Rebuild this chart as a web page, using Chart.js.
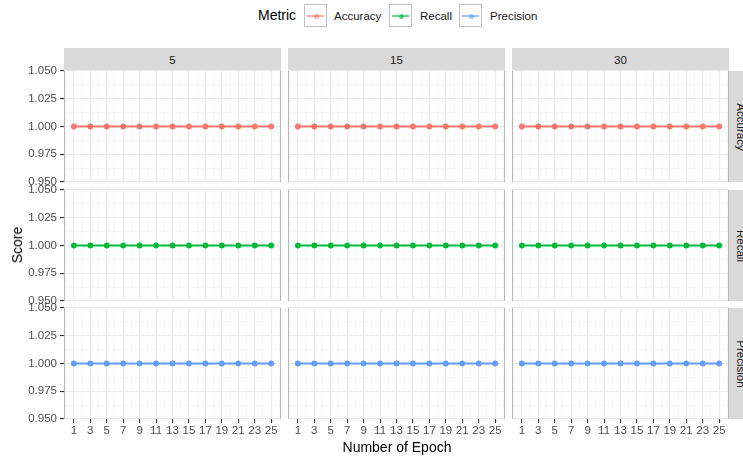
<!DOCTYPE html>
<html>
<head>
<meta charset="utf-8">
<script src="https://cdn.jsdelivr.net/npm/chart.js@4.4.1/dist/chart.umd.min.js"></script>
<style>
  html, body { margin: 0; padding: 0; background: #ffffff; }
  body {
    width: 743px; height: 457px; position: relative; overflow: hidden;
    font-family: "Liberation Sans", Arial, Helvetica, sans-serif;
  }
  .abs { position: absolute; }
  canvas { position: absolute; }
  .strip { position: absolute; background: #d9d9d9; color: #1a1a1a; font-size: 11.5px; overflow: hidden; }
  .strip span { position: absolute; left: 50%; top: 50%; white-space: nowrap; line-height: 14px; }
  .strip.top span { transform: translate(-50%, -50%); }
  .strip.side span { transform: translate(-50%, -50%) rotate(90deg); }
  .key { position: absolute; width: 23px; height: 23px; box-sizing: border-box; border: 1px solid #c2c2c2; background: #fff; }
  .key .ln { position: absolute; left: 2px; right: 2px; top: 10px; height: 1.7px; opacity: 0.6; }
  .key .pt { position: absolute; left: 8.5px; top: 8.5px; width: 5.5px; height: 5.5px; border-radius: 50%; opacity: 0.6; }
  .lbl { position: absolute; font-size: 11.5px; color: #1a1a1a; line-height: 14px; white-space: nowrap; }
  .title { position: absolute; font-size: 14px; color: #000; line-height: 16px; white-space: nowrap; }
</style>
</head>
<body>
<script>
// ---- data -------------------------------------------------------------
const epochs = [1, 3, 5, 7, 9, 11, 13, 15, 17, 19, 21, 23, 25];
const windows = ['5', '15', '30'];
const metrics = ['Accuracy', 'Recall', 'Precision'];

const accuracyW5  = [1.000, 1.000, 1.000, 1.000, 1.000, 1.000, 1.000, 1.000, 1.000, 1.000, 1.000, 1.000, 1.000];
const accuracyW15 = [1.000, 1.000, 1.000, 1.000, 1.000, 1.000, 1.000, 1.000, 1.000, 1.000, 1.000, 1.000, 1.000];
const accuracyW30 = [1.000, 1.000, 1.000, 1.000, 1.000, 1.000, 1.000, 1.000, 1.000, 1.000, 1.000, 1.000, 1.000];
const recallW5    = [1.000, 1.000, 1.000, 1.000, 1.000, 1.000, 1.000, 1.000, 1.000, 1.000, 1.000, 1.000, 1.000];
const recallW15   = [1.000, 1.000, 1.000, 1.000, 1.000, 1.000, 1.000, 1.000, 1.000, 1.000, 1.000, 1.000, 1.000];
const recallW30   = [1.000, 1.000, 1.000, 1.000, 1.000, 1.000, 1.000, 1.000, 1.000, 1.000, 1.000, 1.000, 1.000];
const precisionW5  = [1.000, 1.000, 1.000, 1.000, 1.000, 1.000, 1.000, 1.000, 1.000, 1.000, 1.000, 1.000, 1.000];
const precisionW15 = [1.000, 1.000, 1.000, 1.000, 1.000, 1.000, 1.000, 1.000, 1.000, 1.000, 1.000, 1.000, 1.000];
const precisionW30 = [1.000, 1.000, 1.000, 1.000, 1.000, 1.000, 1.000, 1.000, 1.000, 1.000, 1.000, 1.000, 1.000];

const xBreaks = [1, 3, 5, 7, 9, 11, 13, 15, 17, 19, 21, 23, 25];
const yBreaks = [0.950, 0.975, 1.000, 1.025, 1.050];

// ---- lookup tables built from the arrays above -------------------------
const scores = {
  Accuracy:  { '5': accuracyW5,  '15': accuracyW15,  '30': accuracyW30 },
  Recall:    { '5': recallW5,    '15': recallW15,    '30': recallW30 },
  Precision: { '5': precisionW5, '15': precisionW15, '30': precisionW30 }
};
const metricColors = { Accuracy: '#F8766D', Recall: '#00BA38', Precision: '#619CFF' };

const xLimits = [-0.2, 26.2];
const yLimits = [0.95, 1.05];

// minor breaks halfway between major ones (also just outside the ends when in range)
function minorBreaks(br, lo, hi) {
  const out = [];
  const step = br[1] - br[0];
  const first = br[0] - step / 2;
  if (first >= lo - 1e-9) out.push(first);
  for (let i = 0; i < br.length - 1; i++) out.push((br[i] + br[i + 1]) / 2);
  const last = br[br.length - 1] + step / 2;
  if (last <= hi + 1e-9) out.push(last);
  return out;
}
const isMajor = (v, br) => br.some(b => Math.abs(b - v) < 1e-9);

// ---- layout ------------------------------------------------------------
const FONT = '"Liberation Sans", Arial, Helvetica, sans-serif';
const colL = [64, 288, 512];
const PW = 217;
const rowT = [71, 190, 308];
const PH = 111;
const PAD = 10;
const X_AXIS_H = 24;

Chart.defaults.font.family = FONT;
Chart.defaults.font.size = 11.5;

const panelBorder = {
  id: 'panelBorder',
  beforeDatasetsDraw(chart) {
    const { ctx, chartArea: a } = chart;
    ctx.save();
    ctx.strokeStyle = '#b8b8b8';
    ctx.lineWidth = 1;
    ctx.beginPath();
    ctx.moveTo(a.left + 0.5, a.top); ctx.lineTo(a.left + 0.5, a.bottom);
    ctx.moveTo(a.right - 0.5, a.top); ctx.lineTo(a.right - 0.5, a.bottom);
    ctx.stroke();
    ctx.restore();
  }
};

function gridColor(br) {
  return ctx => (ctx.tick && isMajor(ctx.tick.value, br)) ? '#ebebeb' : '#f1f1f1';
}
function gridWidth(br) {
  return ctx => (ctx.tick && isMajor(ctx.tick.value, br)) ? 1.1 : 0.6;
}
function tickColor(br) {
  return ctx => (ctx.tick && isMajor(ctx.tick.value, br)) ? '#333333' : 'rgba(0,0,0,0)';
}

function makePanel(r, c) {
  const metric = metrics[r];
  const win = windows[c];
  const values = scores[metric][win];
  const color = metricColors[metric];

  const showY = c === 0;
  const showX = r === metrics.length - 1;

  const left = showY ? 0 : colL[c] - PAD;
  const padL = showY ? 0 : PAD;
  const yAxisW = showY ? colL[0] : 0;
  const width = colL[c] + PW + PAD - left;
  const top = rowT[r] - PAD;
  const xAxisH = showX ? X_AXIS_H : 0;
  const height = PAD + PH + xAxisH + PAD;

  const cv = document.createElement('canvas');
  cv.width = width; cv.height = height;
  cv.style.left = left + 'px'; cv.style.top = top + 'px';
  cv.style.width = width + 'px'; cv.style.height = height + 'px';
  document.body.appendChild(cv);

  const xAll = xBreaks.concat(minorBreaks(xBreaks, xLimits[0], xLimits[1])).sort((a, b) => a - b);
  const yAll = yBreaks.concat(minorBreaks(yBreaks, yLimits[0], yLimits[1])).sort((a, b) => a - b);

  new Chart(cv, {
    type: 'line',
    data: {
      datasets: [{
        label: metric,
        data: epochs.map((e, i) => ({ x: e, y: values[i] })),
        borderColor: color,
        backgroundColor: color,
        borderWidth: 1.8,
        pointRadius: 2.9,
        pointBorderWidth: 0,
        pointBackgroundColor: color,
        tension: 0,
        fill: false
      }]
    },
    options: {
      responsive: false,
      animation: false,
      events: [],
      devicePixelRatio: 1,
      layout: { padding: { left: padL, right: PAD, top: PAD, bottom: PAD } },
      plugins: { legend: { display: false }, tooltip: { enabled: false } },
      scales: {
        x: {
          type: 'linear',
          min: xLimits[0], max: xLimits[1],
          afterBuildTicks: s => { s.ticks = xAll.map(v => ({ value: v })); },
          afterFit: s => { s.height = xAxisH; },
          border: { display: false },
          grid: {
            color: gridColor(xBreaks), lineWidth: gridWidth(xBreaks),
            drawTicks: showX, tickLength: 4, tickColor: tickColor(xBreaks), tickWidth: 1.1
          },
          ticks: {
            display: showX, autoSkip: false, maxRotation: 0, minRotation: 0,
            padding: 1, color: '#4d4d4d', font: { size: 11.5 },
            callback: v => isMajor(v, xBreaks) ? String(Math.round(v)) : ''
          }
        },
        y: {
          type: 'linear',
          min: yLimits[0], max: yLimits[1],
          afterBuildTicks: s => { s.ticks = yAll.map(v => ({ value: v })); },
          afterFit: s => { s.width = yAxisW; },
          border: { display: false },
          grid: {
            color: gridColor(yBreaks), lineWidth: gridWidth(yBreaks),
            drawTicks: showY, tickLength: 4, tickColor: tickColor(yBreaks), tickWidth: 1.1
          },
          ticks: {
            display: showY, autoSkip: false, padding: 3, color: '#4d4d4d', font: { size: 11.5 },
            callback: v => isMajor(v, yBreaks) ? v.toFixed(3) : ''
          }
        }
      }
    },
    plugins: [panelBorder]
  });
}

function addDiv(cls, style, html) {
  const d = document.createElement('div');
  d.className = cls;
  Object.assign(d.style, style);
  if (html !== undefined) d.innerHTML = html;
  document.body.appendChild(d);
  return d;
}

// facet strips
windows.forEach((w, c) => {
  addDiv('strip top', { left: colL[c] + 'px', top: '48px', width: PW + 'px', height: '23px' }, '<span>' + w + '</span>');
});
metrics.forEach((m, r) => {
  addDiv('strip side', { left: (colL[2] + PW) + 'px', top: rowT[r] + 'px', width: '23px', height: PH + 'px' }, '<span>' + m + '</span>');
});

// panels
for (let r = 0; r < metrics.length; r++) {
  for (let c = 0; c < windows.length; c++) makePanel(r, c);
}

// axis titles
addDiv('title', { left: '17px', top: '245px', transform: 'translate(-50%, -50%) rotate(-90deg)' }, 'Score');
addDiv('title', { left: '397px', top: '447px', transform: 'translate(-50%, -50%)' }, 'Number of Epoch');

// legend
addDiv('title', { left: '258px', top: '7px' }, 'Metric');
const keyLeft = [304, 389, 459];
const lblLeft = [334, 420, 490];
metrics.forEach((m, i) => {
  const k = addDiv('key', { left: keyLeft[i] + 'px', top: '4px' });
  const ln = document.createElement('div'); ln.className = 'ln'; ln.style.background = metricColors[m]; k.appendChild(ln);
  const pt = document.createElement('div'); pt.className = 'pt'; pt.style.background = metricColors[m]; k.appendChild(pt);
  addDiv('lbl', { left: lblLeft[i] + 'px', top: '9px' }, m);
});
</script>
</body>
</html>
